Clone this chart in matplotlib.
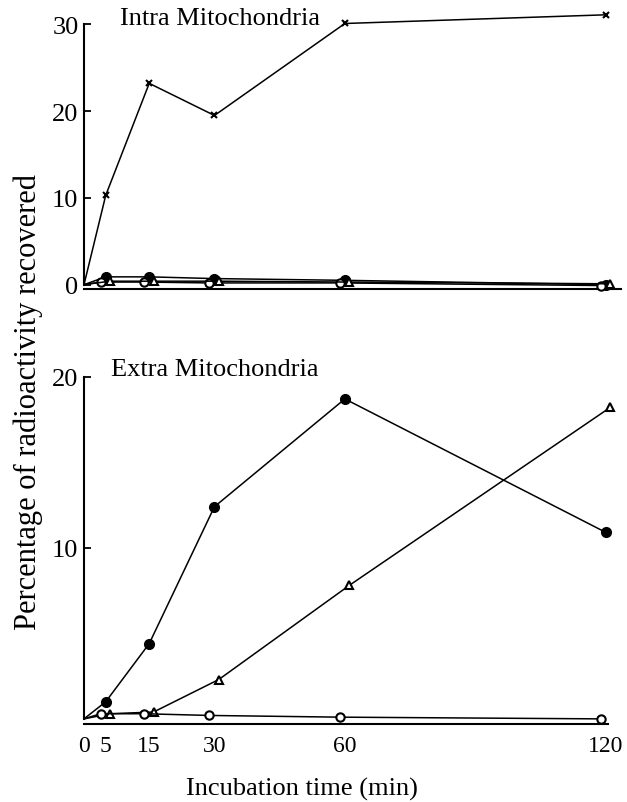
import matplotlib
matplotlib.use("Agg")
import matplotlib.pyplot as plt

plt.rcParams['font.family'] = ['Liberation Serif', 'DejaVu Serif']

# incubation times (min)
times = [0, 5, 15, 30, 60, 120]

# intra mitochondria (% radioactivity)
intra_cross = [0, 10.3, 23.2, 19.5, 30.1, 31.1]
intra_filled = [0, 0.9, 0.9, 0.7, 0.5, 0.0]
intra_open = [0, 0.3, 0.3, 0.2, 0.2, -0.1]
intra_tri = [0, 0.4, 0.4, 0.4, 0.3, 0.1]

# extra mitochondria (% radioactivity)
extra_filled = [0, 1.0, 4.4, 12.4, 18.7, 10.9]
extra_tri = [0, 0.3, 0.4, 2.3, 7.8, 18.2]
extra_open = [0, 0.3, 0.3, 0.2, 0.1, 0.0]

xticks = [0, 5, 15, 30, 60, 120]

# small sideways shift so overlapping markers stay visible
shift_open = -1.2
shift_tri = 1.0


def shifted(xs, d):
    return [x if x == 0 else x + d for x in xs]


def style_axes(ax, ymax_spine, yticks):
    for s in ['top', 'right']:
        ax.spines[s].set_visible(False)
    for s in ['left', 'bottom']:
        ax.spines[s].set_linewidth(1.5)
    ax.spines['left'].set_bounds(0, ymax_spine)
    ax.set_yticks(yticks)
    ax.tick_params(axis='y', direction='in', length=5, width=1.3,
                   labelsize=19, pad=4)
    ax.set_xlim(0, 123.5)


fig = plt.figure(figsize=(6.27, 8.03), dpi=100)
ax1 = fig.add_axes([84 / 627, 1 - 290 / 803, 537 / 627, 282 / 803])
ax2 = fig.add_axes([84 / 627, 1 - 725 / 803, 537 / 627, 361 / 803])

# no marker at the origin, only the line starts there
mk = dict(clip_on=False, color='black', lw=1.1, markevery=slice(1, None))

# top panel
ax1.plot(times, intra_filled, marker='o', ms=7, mfc='black', mec='black', zorder=2, **mk)
ax1.plot(shifted(times, shift_open), intra_open, marker='o', ms=6, mfc='white',
         mec='black', mew=1.5, zorder=3, **mk)
ax1.plot(shifted(times, shift_tri), intra_tri, marker='^', ms=6, mfc='white',
         mec='black', mew=1.5, zorder=3, **mk)
ax1.plot(times, intra_cross, marker='x', ms=5, mew=1.5, zorder=4, **mk)
ax1.set_ylim(-0.5, 32)
style_axes(ax1, 30, [0, 10, 20, 30])
ax1.set_xticks([])
ax1.text(0.067, 0.961, 'Intra Mitochondria', transform=ax1.transAxes,
         fontsize=19, va='center', ha='left')

# bottom panel
ax2.plot(times, extra_filled, marker='o', ms=7, mfc='black', mec='black', zorder=3, **mk)
ax2.plot(shifted(times, shift_tri), extra_tri, marker='^', ms=6, mfc='white',
         mec='black', mew=1.5, zorder=3, **mk)
ax2.plot(shifted(times, shift_open), extra_open, marker='o', ms=6, mfc='white',
         mec='black', mew=1.5, zorder=3, **mk)
ax2.set_ylim(-0.3, 20.8)
style_axes(ax2, 20, [10, 20])
ax2.spines['bottom'].set_bounds(0, 120.5)
ax2.set_xticks(xticks)
ax2.set_xticklabels([str(t) for t in xticks])
ax2.tick_params(axis='x', length=0, labelsize=17, pad=8)
ax2.text(0.05, 0.983, 'Extra Mitochondria', transform=ax2.transAxes,
         fontsize=19, va='center', ha='left')

fig.text(302 / 627, 1 - 789 / 803, 'Incubation time (min)', fontsize=19,
         ha='center', va='center')
fig.text(28 / 627, 1 - 402 / 803, 'Percentage of radioactivity recovered',
         fontsize=22, rotation=90, ha='center', va='center')

fig.savefig('out.png', dpi=100)
